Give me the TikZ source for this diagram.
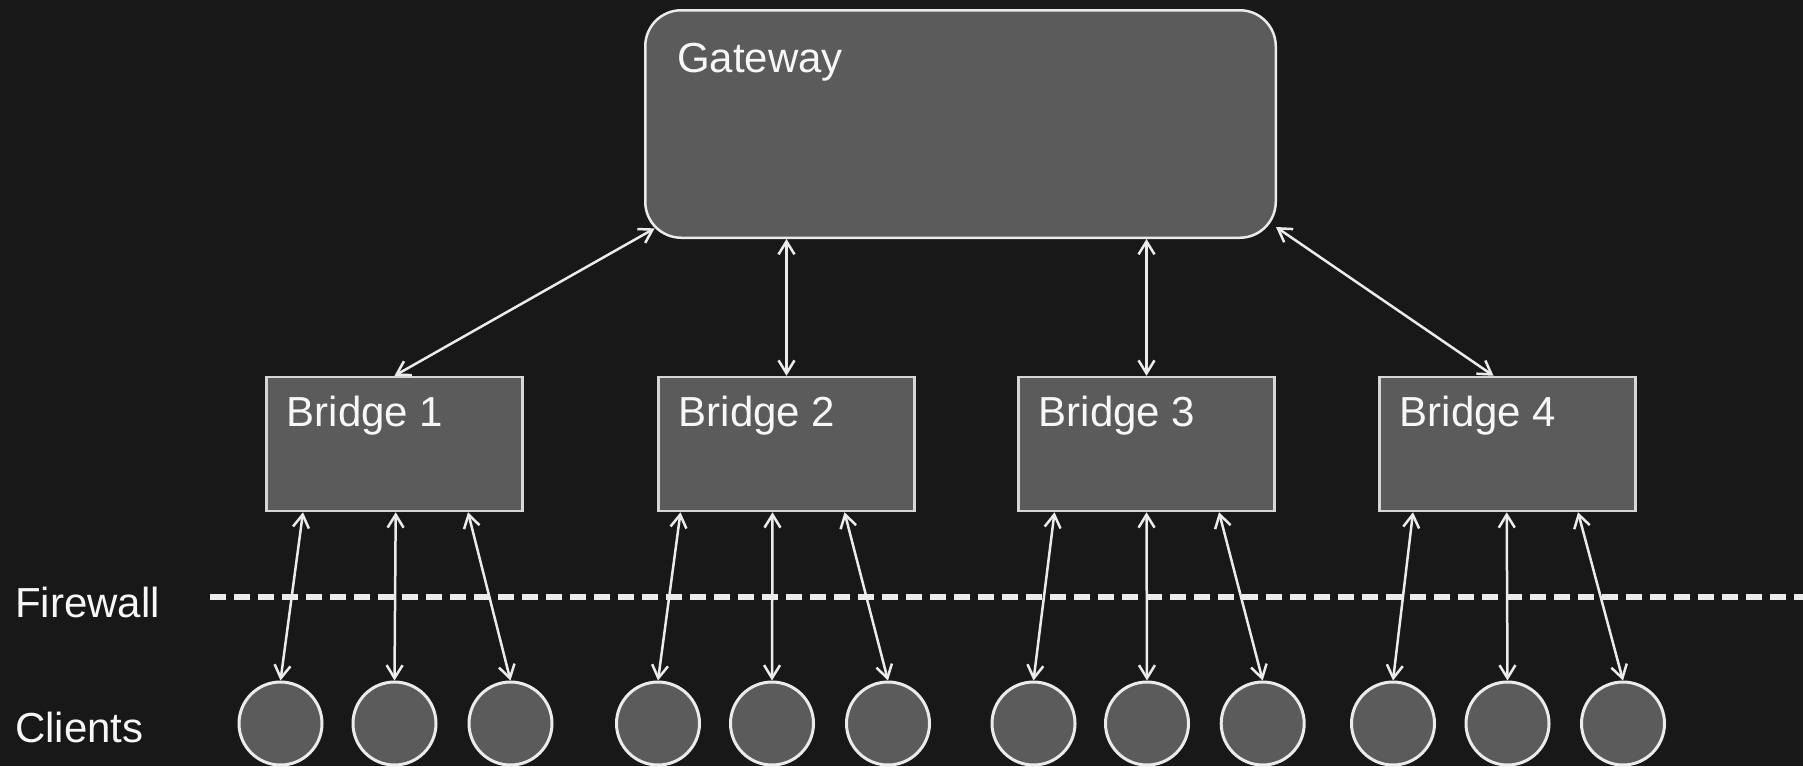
\documentclass[tikz,border=0pt]{standalone}
\usepackage{fontspec}
\setmainfont{Liberation Sans}
\usetikzlibrary{arrows.meta}
\definecolor{bgc}{HTML}{181818}
\definecolor{boxfill}{HTML}{5B5B5B}
\definecolor{edgec}{HTML}{EBEBEB}
\definecolor{bridgeedge}{HTML}{D6D6D6}
\definecolor{txtc}{HTML}{F7F7F7}
\begin{document}
\begin{tikzpicture}[x=1pt,y=-1pt,
  gwbox/.style={draw=edgec, fill=boxfill, line width=2.5pt, rounded corners=36pt, minimum width=630.5pt, minimum height=227.5pt, inner sep=0pt},
  brbox/.style={draw=bridgeedge, fill=boxfill, line width=2.5pt, minimum width=256pt, minimum height=134pt, inner sep=0pt},
  client/.style={circle, draw=edgec, fill=boxfill, line width=3pt, minimum size=83pt, inner sep=0pt},
  lbl/.style={text=txtc, font=\fontsize{42}{50}\selectfont, inner sep=0pt, anchor=base west},
  link/.style={draw=edgec, line width=2.5pt, {Straight Barb[length=13pt,width=16pt]}-{Straight Barb[length=13pt,width=16pt]}},
  fwline/.style={draw=edgec, line width=6pt, dash pattern=on 16pt off 8pt}]
\fill[bgc] (0,0) rectangle (1803,766);
\useasboundingbox (0,0) rectangle (1803,766);
% gateway
\node[gwbox] (gw) at (960.5,124) {};
\node[lbl] (gwt) at (677,72) {Gateway};
% bridges
\node[brbox] (b1) at (394.5,444) {};
\node[brbox] (b2) at (786.5,444) {};
\node[brbox] (b3) at (1146.5,444) {};
\node[brbox] (b4) at (1507.5,444) {};
\node[lbl] (b1t) at (286.5,426.7) {Bridge 1};
\node[lbl] (b2t) at (678.5,426.7) {Bridge 2};
\node[lbl] (b3t) at (1038.5,426.7) {Bridge 3};
\node[lbl] (b4t) at (1399.5,426.7) {Bridge 4};
% clients
\foreach \n/\x in {c1/280.5,c2/394.5,c3/510.5,c4/658,c5/772,c6/888,c7/1033.5,c8/1147,c9/1262.7,c10/1393,c11/1507.5,c12/1623}
  \node[client] (\n) at (\x,723.5) {};
% labels left
\node[lbl] (fwt) at (15,617) {Firewall};
\node[lbl] (clt) at (15,742) {Clients};
% firewall line
\coordinate (fwL) at (210,597);
\coordinate (fwR) at (1803,597);
\draw[fwline] (fwL) -- (fwR);
% gateway links
\draw[link] ([shift={(10.6pt,10.6pt)}]gw.south west) -- (b1.north);
\draw[link] (gw.south -| b2.north) -- (b2.north);
\draw[link] (gw.south -| b3.north) -- (b3.north);
\draw[link] ([shift={(-1pt,12pt)}]gw.south east) -- ([xshift=-14pt]b4.north);
% bridge to client links
\draw[link] ([xshift=-91.5pt]b1.south) -- (c1.north);
\draw[link] ([xshift=1.2pt]b1.south) -- (c2.north);
\draw[link] ([xshift=73.5pt]b1.south) -- (c3.north);
\draw[link] ([xshift=-106pt]b2.south) -- (c4.north);
\draw[link] ([xshift=-14pt]b2.south) -- (c5.north);
\draw[link] ([xshift=58pt]b2.south) -- (c6.north);
\draw[link] ([xshift=-92pt]b3.south) -- (c7.north);
\draw[link] ([xshift=0pt]b3.south) -- (c8.north);
\draw[link] ([xshift=72.5pt]b3.south) -- (c9.north);
\draw[link] ([xshift=-94.5pt]b4.south) -- (c10.north);
\draw[link] ([xshift=-0.8pt]b4.south) -- (c11.north);
\draw[link] ([xshift=70.5pt]b4.south) -- (c12.north);
\end{tikzpicture}
\end{document}
